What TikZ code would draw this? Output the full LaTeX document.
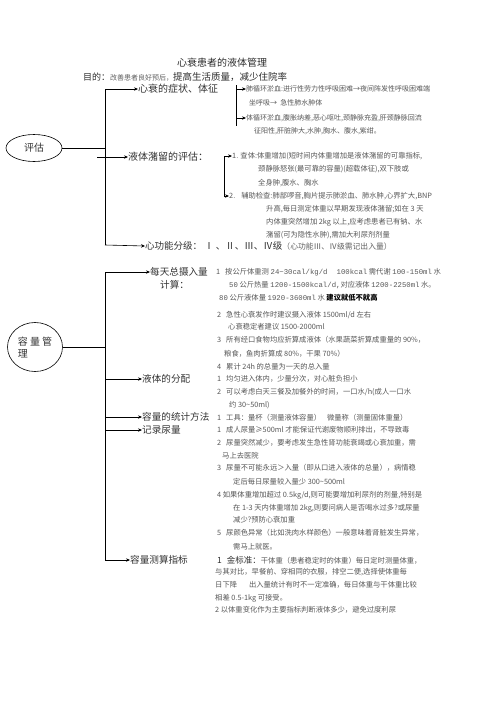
\documentclass[tikz,border=0pt]{standalone}
\usepackage{fontspec}
\setmainfont{Noto Sans CJK SC}
\newfontfamily\monofnt{Liberation Mono}
\usetikzlibrary{arrows.meta,shapes.geometric}
\newcommand{\mn}[1]{{\monofnt #1}}
\begin{document}
\begin{tikzpicture}[x=1pt,y=-1pt,
  sm/.style={anchor=west,inner sep=0pt,font=\fontsize{7.3}{8}\selectfont,text=black!66},
  sym/.style={anchor=west,inner sep=0pt,font=\fontsize{7}{8}\selectfont,text=black!66},
  lb/.style={anchor=west,inner sep=0pt,font=\fontsize{9.6}{12}\selectfont,text=black!80},
  arr/.style={-{Stealth[length=4pt,width=3.4pt]},line width=0.6pt},
  ln/.style={line width=0.6pt},
  oval/.style={draw,ellipse,line width=0.6pt,inner sep=0pt,font=\fontsize{10}{12}\selectfont,text=black!80}]
\useasboundingbox[fill=white] (0,0) rectangle (496,702);

% title
\node[anchor=center,inner sep=0pt,font=\fontsize{10}{12}\selectfont,text=black!82] (title) at (222,63) {心衰患者的液体管理};
\node[anchor=west,inner sep=0pt,font=\fontsize{9}{11}\selectfont,text=black!82] (goal) at (83,77) {目的：{\color{black!62}\fontsize{7}{8}\selectfont 改善患者良好预后，}{\fontsize{9.5}{11}\selectfont 提高生活质量，减少住院率}};

% ===== evaluation =====
\node[oval,minimum width=56pt,minimum height=27pt] (eval) at (34,148) {评估};
\coordinate (v1top) at (105,89);
\coordinate (v1bot) at (105,245);
\coordinate (j1) at (105,148);
\draw[ln] (v1top) -- (v1bot);
\draw[ln] (eval.east) -- (j1);

\node[lb,font=\fontsize{10}{12}\selectfont] (symlabel) at (138,89) {心衰的症状、体征};
\draw[arr] (v1top) -- (symlabel.west);

\coordinate (b1t) at (236,85);
\coordinate (b1b) at (236,126);
\coordinate (b1a) at (236,89);
\coordinate (b1c) at (236,118);
\draw[ln] (b1t) -- (b1b);
\node[sym] (s1) at (246,89) {肺循环淤血:进行性劳力性呼吸困难→夜间阵发性呼吸困难端};
\node[sym] (s1b) at (249,103) {坐呼吸→ \ 急性肺水肿体};
\node[sym] (s2) at (246,118) {体循环淤血,腹胀纳差,恶心呕吐,颈静脉充盈,肝颈静脉回流};
\node[sym] (s2b) at (254,131) {征阳性,肝脏肿大,水肿,胸水、腹水,紫绀。};
\draw[arr] (b1a) -- (s1.west);
\draw[arr] (b1c) -- (s2.west);

\coordinate (l0) at (97,157);
\node[lb,font=\fontsize{10}{12}\selectfont] (fluid) at (128,157) {液体潴留的评估：};
\draw[arr] (l0) -- (fluid.west);

\coordinate (b2t) at (224,156);
\coordinate (b2b) at (224,196);
\draw[ln] (b2t) -- (b2b);
\node[sm] (f1) at (232,156) {1. 查体:体重增加(短时间内体重增加是液体潴留的可靠指标,};
\node[sm] (f1b) at (258,169) {颈静脉怒张(最可靠的容量)(超载体征),双下肢或};
\node[sm] (f1c) at (258,183) {全身肿,腹水、胸水};
\node[sm] (f2) at (229,196) {2.\hspace{6pt}辅助检查:肺部啰音,胸片提示肺淤血、肺水肿,心界扩大,BNP};
\node[sm] (f2b) at (266,209) {升高,每日测定体重以早期发现液体潴留;如在 3 天};
\node[sm] (f2c) at (266,222) {内体重突然增加 2kg 以上,应考虑患者已有钠、水};
\node[sm] (f2d) at (266,235) {潴留(可为隐性水肿),需加大利尿剂剂量};
\draw[arr] (b2t) -- (f1.west);
\draw[arr] (b2b) -- (f2.west);

\node[anchor=west,inner sep=0pt,font=\fontsize{9.5}{11}\selectfont,text=black!80] (grade) at (145,246) {心功能分级： Ⅰ 、Ⅱ、Ⅲ、Ⅳ级{\color{black!62}\fontsize{7.8}{9}\selectfont（心功能Ⅲ、Ⅳ级需记出入量）}};
\draw[arr] (v1bot) -- (grade.west);

% ===== volume management =====
\node[oval,minimum width=55pt,minimum height=49pt,align=left] (mgmt) at (35,347) {容 量 管\\理};
\coordinate (v2top) at (105,272);
\coordinate (v2bot) at (105,560);
\coordinate (j2) at (105,347);
\draw[ln] (v2top) -- (v2bot);
\draw[ln] (mgmt.east) -- (j2);

\node[lb] (daily) at (150,272) {每天总摄入量};
\node[lb] (daily2) at (160,285) {计算：};
\draw[arr] (v2top) -- (daily.west);

\node[sm] (r1) at (216,272) {1\hspace{5pt}按公斤体重测 \mn{24\textasciitilde30cal/kg/d}\hspace{9pt}\mn{100kcal} 需代谢 \mn{100-150ml} 水};
\node[sm] (r2) at (229,285) {\mn{50} 公斤热量 \mn{1200-1500kcal/d,}对应液体 \mn{1200-2250ml} 水。};
\node[sm] (r3) at (219,298) {\mn{80} 公斤液体量 \mn{1920-3600ml} 水 {\bfseries\color{black}建议就低不就高}};
\node[sm] (r4) at (217,315) {2\hspace{5pt}急性心衰发作时建议摄入液体 1500ml/d 左右};
\node[sm] (r5) at (228,327) {心衰稳定者建议 1500-2000ml};
\node[sm] (r6) at (217,340) {3\hspace{5pt}所有经口食物均应折算成液体（水果蔬菜折算成重量的 90\%，};
\node[sm] (r7) at (224,354) {粮食，鱼肉折算成 80\%，干果 70\%）};
\node[sm] (r8) at (217,367) {4\hspace{5pt}累计 24h 的总量为一天的总入量};

\node[lb] (dist) at (142,379) {液体的分配};
\coordinate (a1) at (105,379);
\draw[arr] (a1) -- (dist.west);
\node[sm] (r9) at (217,379) {1\hspace{5pt}均匀进入体内，少量分次，对心脏负担小};
\node[sm] (r10) at (217,392) {2\hspace{5pt}可以考虑白天三餐及加餐外的时间，一口水/h(成人一口水};
\node[sm] (r11) at (229,405) {约 30\textasciitilde50ml)};

\node[lb] (stat) at (142,417) {容量的统计方法};
\coordinate (a2) at (105,417);
\draw[arr] (a2) -- (stat.west);
\node[sm] (r12) at (217,418) {1\hspace{5pt}工具：量杯（测量液体容量）\hspace{6pt}微量称（测量固体重量）};

\node[lb] (urine) at (142,430) {记录尿量};
\coordinate (a3) at (105,430);
\draw[arr] (a3) -- (urine.west);
\node[sm] (r13) at (217,430) {1\hspace{5pt}成人尿量≥500ml 才能保证代谢废物顺利排出，不导致毒};
\node[sm] (r14) at (217,443) {2\hspace{5pt}尿量突然减少，要考虑发生急性肾功能衰竭或心衰加重，需};
\node[sm] (r15) at (222,456) {马上去医院};
\node[sm] (r16) at (217,468) {3\hspace{5pt}尿量不可能永远＞入量（即从口进入液体的总量），病情稳};
\node[sm] (r17) at (233,482) {定后每日尿量较入量少 300\textasciitilde500ml};
\node[sm] (r18) at (217,495) {4 如果体重增加超过 0.5kg/d,则可能要增加利尿剂的剂量,特别是};
\node[sm] (r19) at (233,508) {在 1-3 天内体重增加 2kg,则要问病人是否喝水过多?或尿量};
\node[sm] (r20) at (233,520) {减少?预防心衰加重};
\node[sm] (r21) at (217,533) {5\hspace{5pt}尿颜色异常（比如洗肉水样颜色）一般意味着肾脏发生异常，};
\node[sm] (r22) at (233,547) {需马上就医。};

\node[lb] (measure) at (130,560) {容量测算指标};
\draw[arr] (v2bot) -- (measure.west);
\node[sm] (r23) at (217,560) {{\fontsize{8.5}{9}\selectfont\color{black!80}1\hspace{5pt}金标准：}干体重（患者稳定时的体重）每日定时测量体重，};
\node[sm] (r24) at (215,572) {与其对比，早餐前、穿相同的衣服，排空二便,选择使体重每};
\node[sm] (r25) at (215,585) {日下降\hspace{12pt}出入量统计有时不一定准确，每日体重与干体重比较};
\node[sm] (r26) at (215,598) {相差 0.5-1kg 可接受。};
\node[sm] (r27) at (215,610) {2 以体重变化作为主要指标判断液体多少，避免过度利尿};
\end{tikzpicture}
\end{document}
